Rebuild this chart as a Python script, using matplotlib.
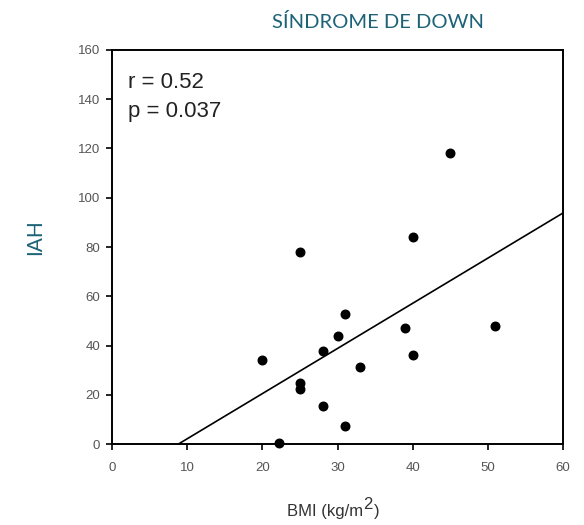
import matplotlib
matplotlib.use("Agg")
import matplotlib.pyplot as plt
import numpy as np

bmi = [45, 40, 25, 31, 30, 28, 39, 51, 40, 20, 33, 25, 25, 28, 31, 22.2]
iah = [118, 84, 78, 53, 44, 38, 47, 48, 36, 34, 31.5, 25, 22.5, 15.5, 7.5, 0.5]
line_x = [8.8, 60]
line_y = [0, 93.8]
xticks = [0, 10, 20, 30, 40, 50, 60]
yticks = [0, 20, 40, 60, 80, 100, 120, 140, 160]

teal = "#1d6378"
fig = plt.figure(figsize=(5.84, 5.25), dpi=100)
ax = fig.add_axes([0.192, 0.154, 0.772, 0.751])
ax.scatter(bmi, iah, s=38, color="black", zorder=3, clip_on=False)
ax.plot(line_x, line_y, color="black", lw=1.2)
ax.set_xlim(0, 60)
ax.set_ylim(0, 160)
ax.set_xticks(xticks)
ax.set_yticks(yticks)
for s in ax.spines.values():
    s.set_linewidth(1.4)
ax.tick_params(direction="out", length=4.5, width=1.2, labelsize=9.5,
               labelcolor="#555555", pad=4)
ax.tick_params(axis="x", pad=8)
for lab in ax.get_xticklabels() + ax.get_yticklabels():
    lab.set_family("Liberation Sans")
ax.text(0.035, 0.904, "r = 0.52", transform=ax.transAxes, fontsize=16,
        family="Liberation Sans", va="baseline", color="#222222")
ax.text(0.035, 0.830, "p = 0.037", transform=ax.transAxes, fontsize=16,
        family="Liberation Sans", va="baseline", color="#222222")
fig.text(0.647, 0.958, "SÍNDROME DE DOWN", ha="center", va="center",
         color=teal, fontsize=14.5, family="Lato")
fig.text(0.060, 0.548, "IAH", rotation=90, ha="center", va="center",
         color=teal, fontsize=15, family="Lato")
t1 = fig.text(0.491, 0.018, "BMI (kg/m", ha="left", va="baseline",
              color="#333333", fontsize=12, family="Liberation Sans")
t2 = ax.annotate("2", xy=(1, 0), xycoords=t1, xytext=(0.5, 5),
                 textcoords="offset points", ha="left", va="bottom",
                 color="#333333", fontsize=12, family="Liberation Sans")
ax.annotate(")", xy=(1, 0), xycoords=t2, xytext=(0.5, -5),
            textcoords="offset points", ha="left", va="bottom",
            color="#333333", fontsize=12, family="Liberation Sans")
fig.savefig("out.png", dpi=100)
